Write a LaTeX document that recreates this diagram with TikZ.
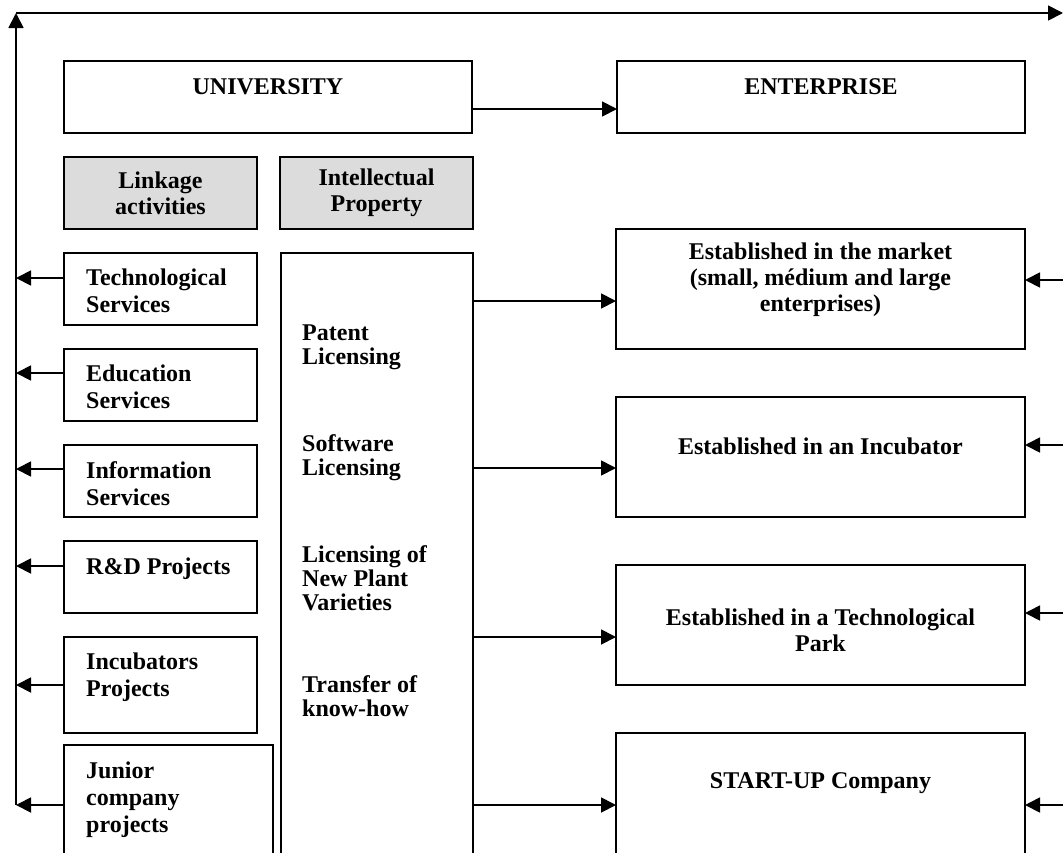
\documentclass[tikz,border=0pt]{standalone}
\usepackage{fontspec}
\setmainfont{Liberation Serif}
\usetikzlibrary{arrows.meta}
\definecolor{boxgray}{RGB}{220,220,220}
\begin{document}
\begin{tikzpicture}[x=1pt,y=-1pt,
  frame/.style={draw=black,line width=1.8pt,inner sep=0pt,outer sep=0pt,anchor=north west},
  graybox/.style={frame,fill=boxgray},
  txt/.style={font=\fontsize{24}{27}\selectfont\bfseries,inner sep=0pt,text=black},
  lt/.style={txt,align=left,anchor=north west},
  ipt/.style={lt,font=\fontsize{24}{24}\selectfont\bfseries},
  ct/.style={txt,align=center},
  arr/.style={line width=1.8pt,-{Triangle[length=15pt,width=15pt]}}]
\clip (0,0) rectangle (1063,852);
\fill[white] (0,0) rectangle (1063,852);
% top boxes
\node[frame,minimum width=408pt,minimum height=72pt] (univ) at (64,61) {};
\node[frame,minimum width=408pt,minimum height=72pt] (ent) at (617,61) {};
\node[ct] (univt) at (univ.center |- 0,87) {UNIVERSITY};
\node[ct] (entt) at (ent.center |- 0,87) {ENTERPRISE};
% gray headers
\node[graybox,minimum width=193pt,minimum height=72pt] (link) at (64,157) {};
\node[graybox,minimum width=193pt,minimum height=72pt] (iprop) at (280,157) {};
\node[ct,font=\fontsize{24}{26}\selectfont\bfseries] (linkt) at (link.center) {Linkage\\activities};
\node[ct,font=\fontsize{24}{26}\selectfont\bfseries] (ipropt) at (iprop.center) {Intellectual\\Property};
% left column
\node[frame,minimum width=193pt,minimum height=72pt] (tech) at (64,253) {};
\node[frame,minimum width=193pt,minimum height=72pt] (edu) at (64,349) {};
\node[frame,minimum width=193pt,minimum height=72pt] (info) at (64,445) {};
\node[frame,minimum width=193pt,minimum height=72pt] (rd) at (64,541) {};
\node[frame,minimum width=193pt,minimum height=96pt] (incp) at (64,637) {};
\node[frame,minimum width=209pt,minimum height=140pt] (jun) at (64,745) {};
\node[lt] (techt) at (86,269) {Technological\\Services};
\node[lt] (edut) at (86,365) {Education\\Services};
\node[lt] (infot) at (86,461) {Information\\Services};
\node[lt] (rdt) at (86,558) {R\&D Projects};
\node[lt] (incpt) at (86,653) {Incubators\\Projects};
\node[lt] (junt) at (86,762) {Junior\\company\\projects};
% IP column
\node[frame,minimum width=192pt,minimum height=640pt] (ip) at (281,253) {};
\node[ipt] (ip1) at (302,325) {Patent\\Licensing};
\node[ipt] (ip2) at (302,434) {Software\\Licensing};
\node[ipt] (ip3) at (302,545) {Licensing of\\New Plant\\Varieties};
\node[ipt] (ip4) at (302,675) {Transfer of\\know-how};
% right column
\node[frame,minimum width=409pt,minimum height=120pt] (mkt) at (616,229) {};
\node[frame,minimum width=409pt,minimum height=120pt] (incb) at (616,397) {};
\node[frame,minimum width=409pt,minimum height=120pt] (park) at (616,565) {};
\node[frame,minimum width=409pt,minimum height=160pt] (start) at (616,733) {};
\node[ct,anchor=north,font=\fontsize{24}{26}\selectfont\bfseries] (mktt) at (mkt.center |- 0,243) {Established in the market\\(small, médium and large\\enterprises)};
\node[ct] (incbt) at (incb.center |- 0,446) {Established in an Incubator};
\node[ct,anchor=north,font=\fontsize{24}{26}\selectfont\bfseries] (parkt) at (park.center |- 0,609) {Established in a Technological\\Park};
\node[ct] (startt) at (start.center |- 0,783) {START-UP Company};
% spine
\coordinate (sb) at (16,805);
\coordinate (st) at (16,13);
\coordinate (sr) at (1063,13);
\draw[arr] (sb) -- (st);
\draw[arr] (st) -- (sr);
% university -> enterprise
\coordinate (ue) at (0,109);
\draw[arr] (univ.east |- ue) -- (ent.west |- ue);
% left arrows
\coordinate (l1) at (16,278);
\coordinate (l2) at (16,373);
\coordinate (l3) at (16,469);
\coordinate (l4) at (16,566);
\coordinate (l5) at (16,685);
\coordinate (l6) at (16,805);
\draw[arr] (tech.west |- l1) -- (l1);
\draw[arr] (edu.west |- l2) -- (l2);
\draw[arr] (info.west |- l3) -- (l3);
\draw[arr] (rd.west |- l4) -- (l4);
\draw[arr] (incp.west |- l5) -- (l5);
\draw[arr] (jun.west |- l6) -- (l6);
% middle arrows
\coordinate (m1) at (0,301);
\coordinate (m2) at (0,468);
\coordinate (m3) at (0,637);
\coordinate (m4) at (0,805);
\draw[arr] (ip.east |- m1) -- (mkt.west |- m1);
\draw[arr] (ip.east |- m2) -- (incb.west |- m2);
\draw[arr] (ip.east |- m3) -- (park.west |- m3);
\draw[arr] (ip.east |- m4) -- (start.west |- m4);
% right arrows
\coordinate (r1) at (1063,280);
\coordinate (r2) at (1063,445);
\coordinate (r3) at (1063,613);
\coordinate (r4) at (1063,805);
\draw[arr] (r1) -- (mkt.east |- r1);
\draw[arr] (r2) -- (incb.east |- r2);
\draw[arr] (r3) -- (park.east |- r3);
\draw[arr] (r4) -- (start.east |- r4);
\end{tikzpicture}
\end{document}
